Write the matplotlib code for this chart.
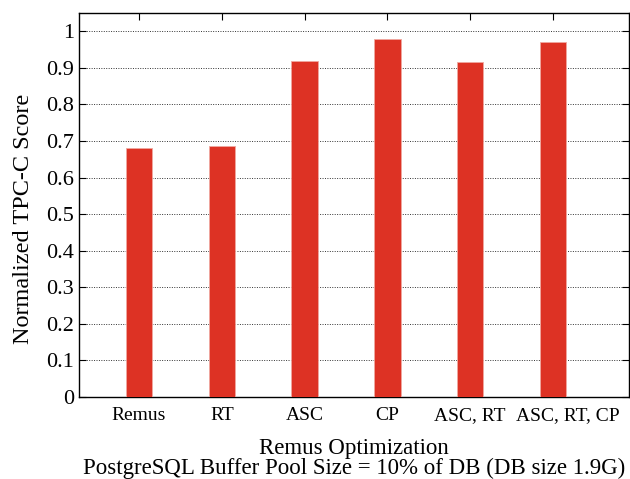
import matplotlib
matplotlib.use("Agg")
import matplotlib.pyplot as plt
import matplotlib.transforms as mtransforms
import numpy as np

categories = ["Remus", "RT", "ASC", "CP", "ASC, RT", "ASC, RT, CP"]
scores = [0.680, 0.685, 0.920, 0.979, 0.915, 0.970]
yticks = [0, 0.1, 0.2, 0.3, 0.4, 0.5, 0.6, 0.7, 0.8, 0.9, 1]

plt.rcParams['font.family'] = ['Liberation Serif', 'DejaVu Serif']

fig = plt.figure(figsize=(6.3, 4.79), dpi=100)
ax = fig.add_axes([79 / 630, 1 - 397 / 479, 550 / 630, 384 / 479])

x = np.arange(len(categories))
ax.bar(x, scores, width=0.32, color="#dd3224", edgecolor="#f0a8a0",
       linewidth=0.6, zorder=3)

ax.set_xlim(-0.725, 5.92)
ax.set_ylim(0, 1.05)
ax.set_yticks(yticks)
ax.set_yticklabels([f"{t:g}" for t in yticks])
ax.set_xticks(x)
ax.set_xticklabels(categories)
ax.yaxis.grid(True, linestyle=(0, (1, 1.5)), color="#333333", linewidth=0.7, zorder=0)

ax.tick_params(axis="both", direction="in", top=True, right=True,
               length=5, width=0.8, labelsize=16)
ax.tick_params(axis="x", labelsize=14, pad=7)
for s in ax.spines.values():
    s.set_linewidth(1.0)

# last label sits a bit right of its tick in the original
last = ax.get_xticklabels()[-1]
last.set_transform(last.get_transform() +
                   mtransforms.ScaledTranslation(15 / 100, 0, fig.dpi_scale_trans))

ax.set_ylabel("Normalized TPC-C Score", fontsize=17.5)
ax.yaxis.set_label_coords(-0.082, 0.464)
ax.set_xlabel("Remus Optimization\nPostgreSQL Buffer Pool Size = 10% of DB (DB size 1.9G)",
              fontsize=16.5, labelpad=10.5, linespacing=0.9)

fig.savefig("out.png", dpi=100)
